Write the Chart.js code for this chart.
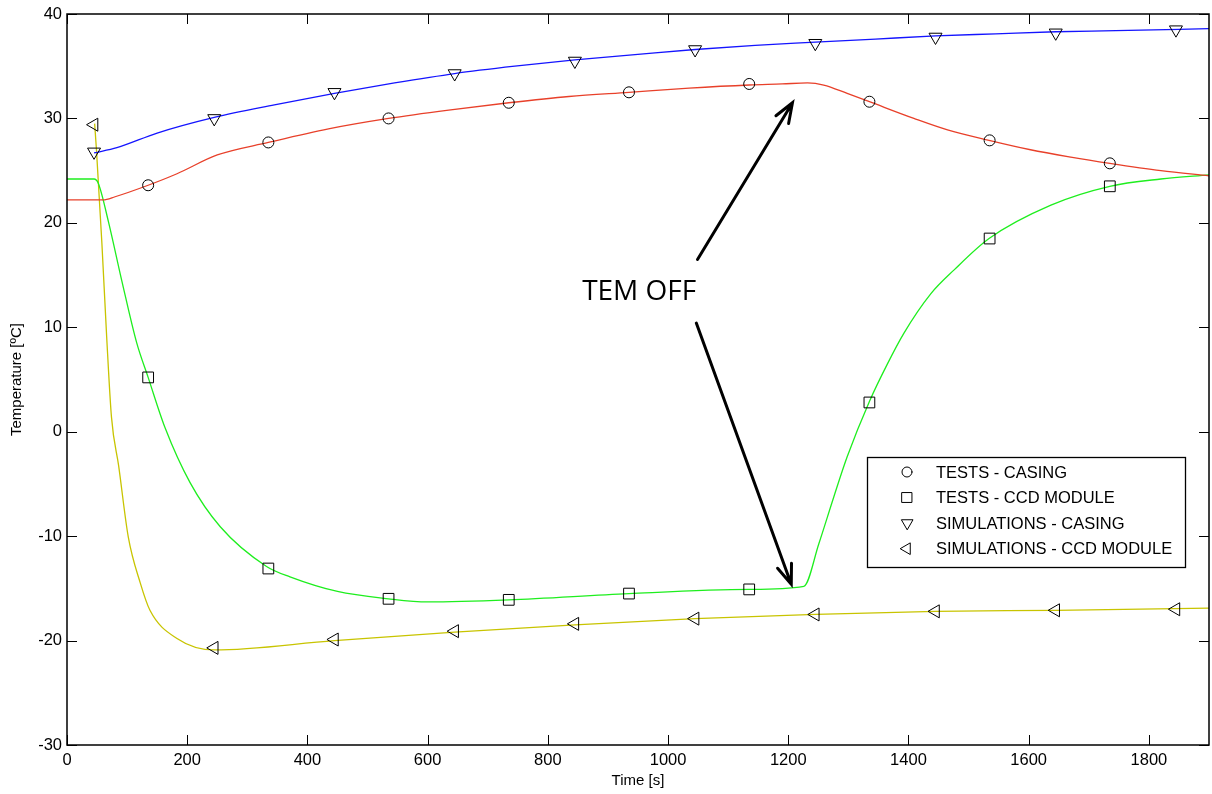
<!DOCTYPE html>
<html>
<head>
<meta charset="utf-8">
<title>TEM OFF - temperatures</title>
<script src="https://cdn.jsdelivr.net/npm/chart.js@4.4.1/dist/chart.umd.min.js"></script>
<style>
  html, body { margin: 0; padding: 0; background: #fff; overflow: hidden; }
  #wrap { width: 1212px; height: 794px; }
</style>
</head>
<body>
<div id="wrap"><canvas id="chart"></canvas></div>
<script>
// ---- dados ----
// linhas contínuas
const casingTestTime = [0, 60, 80, 135, 183, 250, 335, 435, 535, 635, 735, 835, 935, 1035, 1135, 1190, 1232, 1259, 1298, 1335, 1409, 1465, 1534, 1603, 1670, 1735, 1820, 1900];
const casingTestTemp = [22.2, 22.2, 22.5, 23.6, 24.7, 26.5, 27.7, 29.0, 30.0, 30.8, 31.5, 32.1, 32.5, 32.9, 33.2, 33.3, 33.4, 33.2, 32.4, 31.6, 30.0, 28.9, 27.9, 27.0, 26.3, 25.7, 25.0, 24.5];

const ccdTestTime = [0, 45, 52, 69, 91, 116, 135, 163, 205, 255, 332, 371, 450, 535, 600, 735, 935, 1135, 1226, 1251, 1276, 1298, 1335, 1365, 1392, 1437, 1476, 1534, 1637, 1735, 1820, 1900];
const ccdTestTemp = [24.2, 24.2, 23.8, 20.1, 14.5, 8.5, 5.2, 0.4, -4.9, -9.1, -12.9, -13.9, -15.3, -16.0, -16.3, -16.1, -15.5, -15.1, -14.8, -10.7, -6.2, -2.4, 2.9, 6.5, 9.4, 13.2, 15.5, 18.5, 21.7, 23.5, 24.2, 24.6];

const casingSimTime = [45, 83, 150, 245, 345, 445, 545, 645, 745, 845, 945, 1045, 1145, 1245, 1345, 1445, 1545, 1645, 1745, 1900];
const casingSimTemp = [26.7, 27.2, 28.6, 30.1, 31.3, 32.4, 33.4, 34.3, 35.0, 35.6, 36.1, 36.6, 37.0, 37.3, 37.6, 37.9, 38.1, 38.3, 38.4, 38.6];

const ccdSimTime = [46, 49, 58, 66, 74, 86, 102, 122, 138, 183, 245, 445, 645, 845, 1045, 1245, 1445, 1645, 1900];
const ccdSimTemp = [29.5, 27.0, 18.1, 9.1, 1.4, -3.3, -10.1, -14.5, -17.1, -19.8, -20.9, -20.0, -19.2, -18.5, -17.9, -17.5, -17.2, -17.1, -16.9];

// marcadores
const testMarkerTime = [135, 335, 535, 735, 935, 1135, 1335, 1535, 1735];
const casingTestMarks = [23.6, 27.7, 30.0, 31.5, 32.5, 33.3, 31.6, 27.9, 25.7];
const ccdTestMarks = [5.2, -13.1, -16.0, -16.1, -15.5, -15.1, 2.8, 18.5, 23.5];

const simMarkerTime = [45, 245, 445, 645, 845, 1045, 1245, 1445, 1645, 1845];
const casingSimMarks = [26.8, 30.0, 32.5, 34.3, 35.5, 36.6, 37.2, 37.8, 38.2, 38.5];
const ccdSimMarks = [29.4, -20.7, -19.9, -19.1, -18.4, -17.9, -17.5, -17.2, -17.1, -17.0];

const seriesLabels = ['TESTS - CASING', 'TESTS - CCD MODULE', 'SIMULATIONS - CASING', 'SIMULATIONS - CCD MODULE'];

const xTicks = [0, 200, 400, 600, 800, 1000, 1200, 1400, 1600, 1800];
const yTicks = [-30, -20, -10, 0, 10, 20, 30, 40];

// anotação "TEM OFF" (coordenadas em unidades de dados)
const noteText = 'TEM OFF';
const notePos = [952, 13.4];
const arrowStart = [[1049, 16.5], [1047, 10.4]];
const arrowEnd = [[1207, 31.5], [1205, -14.6]];

// ---- helpers ----
const FONT = "'Liberation Sans', Arial, sans-serif";
const pts = (xs, ys) => xs.map((x, i) => ({ x, y: ys[i] }));

function lineSet(xs, ys, color) {
  return {
    data: pts(xs, ys),
    borderColor: color,
    borderWidth: 1.3,
    pointRadius: 0,
    cubicInterpolationMode: 'monotone',
    showLine: true,
    order: 2
  };
}

function markSet(label, xs, ys, style, rot, r) {
  return {
    label,
    data: pts(xs, ys),
    showLine: false,
    pointStyle: style,
    pointRotation: rot,
    pointRadius: r,
    pointBorderColor: '#000',
    pointBackgroundColor: 'rgba(0,0,0,0)',
    pointBorderWidth: 1,
    order: 1
  };
}

const markerSets = [
  markSet(seriesLabels[0], testMarkerTime, casingTestMarks, 'circle', 0, 5.5),
  markSet(seriesLabels[1], testMarkerTime, ccdTestMarks, 'rect', 0, 7.6),
  markSet(seriesLabels[2], simMarkerTime, casingSimMarks, 'triangle', 180, 7.5),
  markSet(seriesLabels[3], simMarkerTime, ccdSimMarks, 'triangle', 270, 7.5)
];

// moldura estilo MATLAB, ticks para dentro, legenda e setas
const framePlugin = {
  id: 'frame',
  afterDatasetsDraw(chart) {
    const { ctx, chartArea: a, scales } = chart;
    const xs = scales.x, ys = scales.y;
    ctx.save();

    // caixa + ticks
    ctx.strokeStyle = '#000';
    ctx.lineWidth = 1.5;
    ctx.strokeRect(a.left, a.top, a.right - a.left, a.bottom - a.top);
    ctx.lineWidth = 1;
    const tl = 10;
    ctx.beginPath();
    xTicks.forEach(v => {
      const px = Math.round(xs.getPixelForValue(v)) + 0.5;
      ctx.moveTo(px, a.bottom); ctx.lineTo(px, a.bottom - tl);
      ctx.moveTo(px, a.top); ctx.lineTo(px, a.top + tl);
    });
    yTicks.forEach(v => {
      const py = Math.round(ys.getPixelForValue(v)) + 0.5;
      ctx.moveTo(a.left, py); ctx.lineTo(a.left + tl, py);
      ctx.moveTo(a.right, py); ctx.lineTo(a.right - tl, py);
    });
    ctx.stroke();

    // setas
    ctx.lineWidth = 3;
    ctx.lineCap = 'round';
    arrowStart.forEach((s, i) => {
      const x1 = xs.getPixelForValue(s[0]), y1 = ys.getPixelForValue(s[1]);
      const x2 = xs.getPixelForValue(arrowEnd[i][0]), y2 = ys.getPixelForValue(arrowEnd[i][1]);
      const ang = Math.atan2(y2 - y1, x2 - x1);
      const hl = 21, ha = 0.36;
      ctx.beginPath();
      ctx.moveTo(x1, y1); ctx.lineTo(x2, y2);
      ctx.moveTo(x2 - hl * Math.cos(ang - ha), y2 - hl * Math.sin(ang - ha));
      ctx.lineTo(x2, y2);
      ctx.lineTo(x2 - hl * Math.cos(ang + ha), y2 - hl * Math.sin(ang + ha));
      ctx.stroke();
    });

    // texto
    ctx.fillStyle = '#000';
    ctx.font = "28px 'Open Sans', 'Noto Sans', sans-serif";
    ctx.textAlign = 'center';
    ctx.textBaseline = 'middle';
    ctx.fillText(noteText, xs.getPixelForValue(notePos[0]), ys.getPixelForValue(notePos[1]));

    // legenda
    const bx = a.right - 342, by = a.top + 443, bw = 318, bh = 110;
    ctx.fillStyle = '#fff';
    ctx.fillRect(bx, by, bw, bh);
    ctx.lineWidth = 1.3;
    ctx.strokeStyle = '#000';
    ctx.strokeRect(bx + 0.5, by + 0.5, bw, bh);
    ctx.font = '16.5px ' + FONT;
    ctx.textAlign = 'left';
    markerSets.forEach((d, i) => {
      const ry = by + 15 + i * 25.5;
      ctx.lineWidth = 1;
      ctx.strokeStyle = '#000';
      ctx.fillStyle = 'rgba(0,0,0,0)';
      Chart.helpers.drawPoint(ctx, {
        pointStyle: d.pointStyle,
        rotation: d.pointRotation,
        radius: d.pointStyle === 'circle' ? 5 : (d.pointStyle === 'rect' ? 7 : 6.5),
        borderWidth: 1
      }, bx + 40, ry);
      ctx.fillStyle = '#000';
      ctx.fillText(d.label, bx + 69, ry + 1);
    });
    ctx.restore();
  }
};

new Chart(document.getElementById('chart'), {
  type: 'scatter',
  data: {
    datasets: [
      ...markerSets,
      lineSet(casingTestTime, casingTestTemp, '#e8402a'),
      lineSet(ccdTestTime, ccdTestTemp, '#1eee1e'),
      lineSet(casingSimTime, casingSimTemp, '#1414ff'),
      lineSet(ccdSimTime, ccdSimTemp, '#c8c400')
    ]
  },
  options: {
    responsive: true,
    maintainAspectRatio: false,
    animation: false,
    layout: { autoPadding: false, padding: { top: 14, right: 3, left: 0, bottom: 0 } },
    plugins: {
      legend: { display: false },
      tooltip: { enabled: false }
    },
    scales: {
      x: {
        type: 'linear',
        min: 0, max: 1900,
        afterBuildTicks: s => { s.ticks = xTicks.map(v => ({ value: v })); },
        afterFit: s => { s.height = 49; s.paddingLeft = 0; s.paddingRight = 0; },
        grid: { display: false, drawTicks: false },
        border: { display: false },
        ticks: { color: '#000', font: { family: FONT, size: 16.5 }, padding: 6, maxRotation: 0, callback: v => String(v) },
        title: { display: true, text: 'Time [s]', color: '#000', font: { family: FONT, size: 15 }, padding: { top: 0, bottom: 4 } }
      },
      y: {
        type: 'linear',
        min: -30, max: 40,
        afterBuildTicks: s => { s.ticks = yTicks.map(v => ({ value: v })); },
        afterFit: s => { s.width = 67; s.paddingTop = 0; s.paddingBottom = 0; },
        grid: { display: false, drawTicks: false },
        border: { display: false },
        ticks: { color: '#000', font: { family: FONT, size: 16.5 }, padding: 5, callback: v => String(v) },
        title: { display: true, text: 'Temperature [ºC]', color: '#000', font: { family: FONT, size: 15 }, padding: { top: 8, bottom: 0 } }
      }
    }
  },
  plugins: [framePlugin]
});
</script>
</body>
</html>
